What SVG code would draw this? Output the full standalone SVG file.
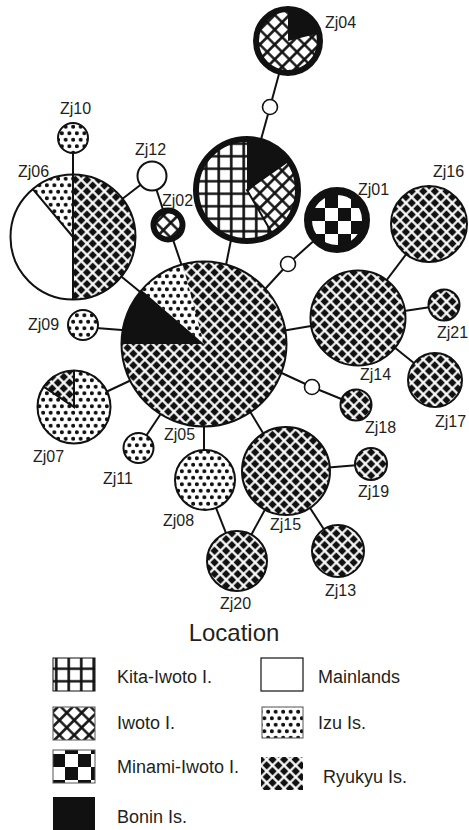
<svg xmlns="http://www.w3.org/2000/svg" width="469" height="830" viewBox="0 0 469 830">
<style>
text{font-family:"Liberation Sans",Arial,sans-serif;fill:#231f20}
.lab{font-size:16px}
.leg{font-size:18px}
.e{stroke:#111;stroke-width:2;fill:none}
.n{stroke:#111;stroke-width:2}
.ring{fill:none;stroke:#111;stroke-width:6}
.div{stroke:#111;stroke-width:2;fill:none}
.mv{fill:#fff;stroke:#111;stroke-width:1.6}
</style>
<defs>
<pattern id="ryu" patternUnits="userSpaceOnUse" width="8.2" height="8.2" patternTransform="rotate(45)">
<rect width="8.2" height="8.2" fill="#111"/>
<path d="M4.1 0V8.2M0 4.1H8.2" stroke="#fff" stroke-width="2.1"/>
</pattern>
<pattern id="iwo" patternUnits="userSpaceOnUse" width="10.5" height="10.5" patternTransform="rotate(45)">
<rect width="10.5" height="10.5" fill="#fff"/>
<path d="M5.25 0V10.5M0 5.25H10.5" stroke="#111" stroke-width="2.6"/>
</pattern>
<pattern id="kita" patternUnits="userSpaceOnUse" width="12.5" height="12.5">
<rect width="12.5" height="12.5" fill="#fff"/>
<path d="M6.25 0V12.5M0 6.25H12.5" stroke="#111" stroke-width="2.6"/>
</pattern>
<pattern id="izu" patternUnits="userSpaceOnUse" width="7.5" height="13">
<rect width="7.5" height="13" fill="#fff"/>
<circle cx="1.9" cy="3.25" r="2" fill="#111"/>
<circle cx="5.65" cy="9.75" r="2" fill="#111"/>
</pattern>
<pattern id="min" patternUnits="userSpaceOnUse" width="26" height="26">
<rect width="26" height="26" fill="#fff"/>
<rect width="13" height="13" fill="#111"/>
<rect x="13" y="13" width="13" height="13" fill="#111"/>
</pattern>
</defs>

<g id="connectors">
<line class="e" x1="288" y1="41" x2="270" y2="107"/>
<line class="e" x1="270" y1="107" x2="247" y2="190"/>
<line class="e" x1="240" y1="195" x2="224" y2="275"/>
<line class="e" x1="168" y1="225" x2="185" y2="275"/>
<line class="e" x1="152" y1="176" x2="168" y2="225"/>
<line class="e" x1="152" y1="176" x2="73" y2="237"/>
<line class="e" x1="73" y1="138" x2="73" y2="237"/>
<line class="e" x1="73" y1="237" x2="150" y2="300"/>
<line class="e" x1="83" y1="327" x2="135" y2="331"/>
<line class="e" x1="74" y1="407" x2="140" y2="376"/>
<line class="e" x1="138" y1="448" x2="166" y2="406"/>
<line class="e" x1="204" y1="410" x2="204" y2="480"/>
<line class="e" x1="240" y1="395" x2="286" y2="471"/>
<line class="e" x1="286" y1="471" x2="237" y2="561"/>
<line class="e" x1="205" y1="480" x2="237" y2="561"/>
<line class="e" x1="286" y1="471" x2="338" y2="551"/>
<line class="e" x1="286" y1="471" x2="371" y2="464"/>
<line class="e" x1="260" y1="363" x2="312" y2="387"/>
<line class="e" x1="312" y1="387" x2="356" y2="405"/>
<line class="e" x1="270" y1="333" x2="358" y2="318"/>
<line class="e" x1="255" y1="300" x2="288" y2="264"/>
<line class="e" x1="288" y1="264" x2="337" y2="220"/>
<line class="e" x1="358" y1="318" x2="429" y2="224"/>
<line class="e" x1="358" y1="318" x2="444" y2="305"/>
<line class="e" x1="358" y1="318" x2="435" y2="380"/>
</g>

<g id="m1"><circle class="mv" cx="270" cy="107" r="7.5"/></g>
<g id="m2"><circle class="mv" cx="288" cy="264" r="7.5"/></g>
<g id="m3"><circle class="mv" cx="312" cy="387" r="7.5"/></g>

<g id="Zj04">
<circle cx="288" cy="41" r="32" fill="url(#iwo)"/>
<path d="M288,41 L288,10 A31 31 0 0 1 318.1,33.5 Z" fill="#111"/>
<circle class="ring" cx="288" cy="41" r="32"/>
<text class="lab" x="325" y="28">Zj04</text>
</g>

<g id="Zj03">
<circle cx="247" cy="190" r="51" fill="url(#kita)"/>
<path d="M247,190 L288,161.3 A50 50 0 0 1 272,233.3 Z" fill="url(#iwo)"/>
<path d="M247,190 L247,140 A50 50 0 0 1 288,161.3 Z" fill="#111"/>
<path class="div" d="M288,161.3 L247,190 L272,233.3"/>
<circle class="ring" cx="247" cy="190" r="51"/>
</g>

<g id="Zj02">
<circle cx="168" cy="225" r="14.5" fill="url(#iwo)"/>
<circle class="ring" cx="168" cy="225" r="14.5"/>
<text class="lab" x="162" y="206">Zj02</text>
</g>

<g id="Zj01">
<circle cx="337" cy="220" r="29" fill="url(#min)"/>
<circle cx="337" cy="220" r="29" fill="none" stroke="#111" stroke-width="8"/>
<text class="lab" x="358" y="195">Zj01</text>
</g>

<g id="Zj12">
<circle class="n" cx="152" cy="176" r="14.5" fill="#fff"/>
<text class="lab" x="135" y="155">Zj12</text>
</g>

<g id="Zj10">
<circle class="n" cx="73" cy="138" r="15" fill="url(#izu)"/>
<text class="lab" x="60" y="114">Zj10</text>
</g>

<g id="Zj06">
<circle cx="73" cy="237" r="62.5" fill="#fff"/>
<path d="M73,174.5 A62.5 62.5 0 0 1 73,299.5 Z" fill="url(#ryu)"/>
<path d="M73,237 L32.8,189.1 A62.5 62.5 0 0 1 73,174.5 Z" fill="url(#izu)"/>
<path class="div" d="M73,174.5 L73,299.5 M73,237 L32.8,189.1"/>
<circle class="n" cx="73" cy="237" r="62.5" fill="none"/>
<text class="lab" x="18" y="177">Zj06</text>
</g>

<g id="Zj09">
<circle class="n" cx="83" cy="325" r="15" fill="url(#izu)"/>
<text class="lab" x="28" y="330">Zj09</text>
</g>

<g id="Zj05">
<circle cx="204" cy="344" r="82.5" fill="url(#ryu)"/>
<path d="M204,344 L121.5,344 A82.5 82.5 0 0 1 141.7,289.9 Z" fill="#111"/>
<path d="M204,344 L141.7,289.9 A82.5 82.5 0 0 1 182.6,264.3 Z" fill="url(#izu)"/>
<circle class="n" cx="204" cy="344" r="82.5" fill="none"/>
<text class="lab" x="164" y="440">Zj05</text>
</g>

<g id="Zj07">
<circle cx="74" cy="407" r="36.5" fill="url(#izu)"/>
<path d="M74,407 L43.7,386.6 A36.5 36.5 0 0 1 74,370.5 Z" fill="url(#ryu)"/>
<path class="div" d="M43.7,386.6 L74,407 L74,370.5"/>
<circle class="n" cx="74" cy="407" r="36.5" fill="none"/>
<text class="lab" x="33" y="462">Zj07</text>
</g>

<g id="Zj11">
<circle class="n" cx="138.5" cy="448" r="15" fill="url(#izu)"/>
<text class="lab" x="103" y="484">Zj11</text>
</g>

<g id="Zj08">
<circle class="n" cx="205" cy="480" r="30" fill="url(#izu)"/>
<text class="lab" x="163" y="526">Zj08</text>
</g>

<g id="Zj15">
<circle class="n" cx="286" cy="471" r="44" fill="url(#ryu)"/>
<text class="lab" x="270" y="530">Zj15</text>
</g>

<g id="Zj20">
<circle class="n" cx="237" cy="561" r="30" fill="url(#ryu)"/>
<text class="lab" x="220" y="609">Zj20</text>
</g>

<g id="Zj13">
<circle class="n" cx="338" cy="551" r="26" fill="url(#ryu)"/>
<text class="lab" x="325" y="596">Zj13</text>
</g>

<g id="Zj19">
<circle class="n" cx="371" cy="464" r="16" fill="url(#ryu)"/>
<text class="lab" x="358" y="497">Zj19</text>
</g>

<g id="Zj18">
<circle class="n" cx="356" cy="405" r="15.5" fill="url(#ryu)"/>
<text class="lab" x="365" y="433">Zj18</text>
</g>

<g id="Zj14">
<circle class="n" cx="358" cy="318" r="47.5" fill="url(#ryu)"/>
<text class="lab" x="360" y="380">Zj14</text>
</g>

<g id="Zj16">
<circle class="n" cx="429" cy="224" r="38" fill="url(#ryu)"/>
<text class="lab" x="433" y="177">Zj16</text>
</g>

<g id="Zj21">
<circle class="n" cx="444" cy="305" r="15.5" fill="url(#ryu)"/>
<text class="lab" x="437" y="338">Zj21</text>
</g>

<g id="Zj17">
<circle class="n" cx="435" cy="380" r="27" fill="url(#ryu)"/>
<text class="lab" x="435" y="427">Zj17</text>
</g>

<g id="legend">
<text x="234" y="641" font-size="24" text-anchor="middle">Location</text>
<rect x="53" y="658" width="42" height="33" fill="url(#kita)" stroke="#111" stroke-width="1"/>
<text class="leg" x="117" y="683">Kita-Iwoto I.</text>
<rect x="53" y="707" width="42" height="33" fill="url(#iwo)" stroke="#555" stroke-width="1"/>
<text class="leg" x="117" y="729">Iwoto I.</text>
<rect x="53" y="750" width="42" height="33" fill="url(#min)" stroke="#555" stroke-width="1"/>
<text class="leg" x="117" y="773">Minami-Iwoto I.</text>
<rect x="53" y="797" width="42" height="33" fill="#111"/>
<text class="leg" x="117" y="823">Bonin Is.</text>
<rect x="261" y="658" width="42" height="33" fill="#fff" stroke="#111" stroke-width="1.2"/>
<text class="leg" x="318" y="683">Mainlands</text>
<rect x="262" y="707" width="41" height="31" fill="url(#izu)" stroke="#555" stroke-width="1"/>
<text class="leg" x="318" y="729">Izu Is.</text>
<rect x="261" y="757" width="42" height="33" fill="url(#ryu)"/>
<text class="leg" x="323" y="783">Ryukyu Is.</text>
</g>
</svg>
